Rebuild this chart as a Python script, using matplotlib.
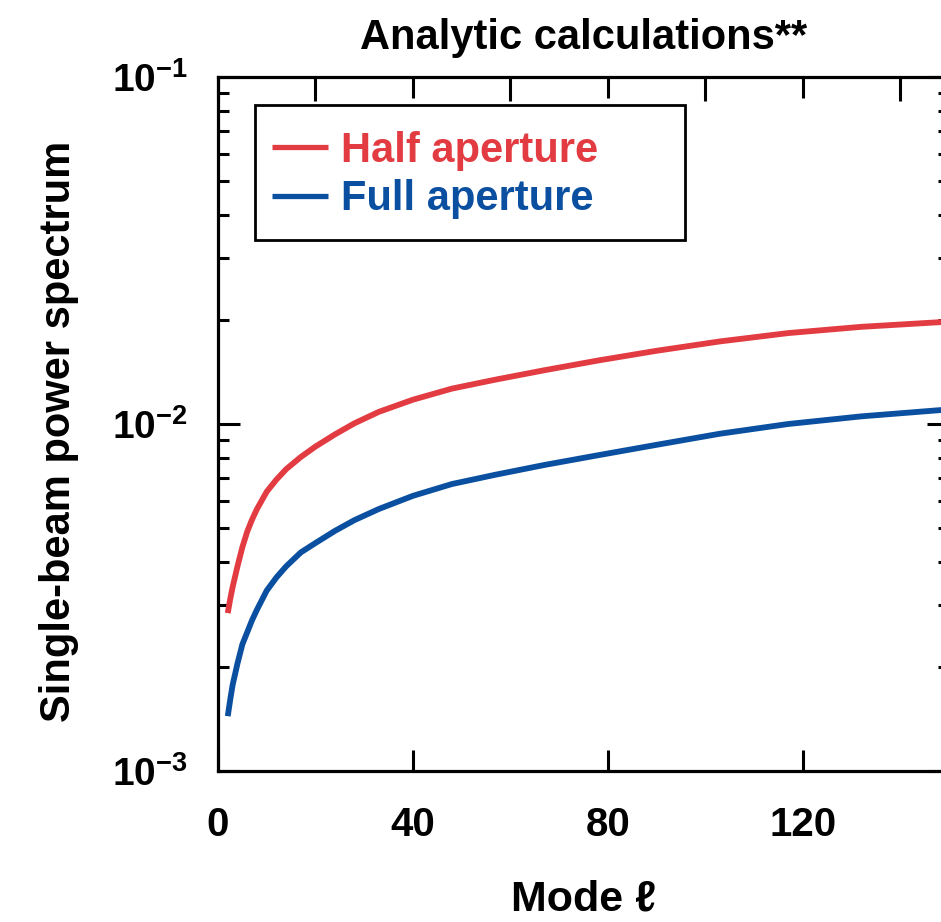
import matplotlib
matplotlib.use('Agg')
import matplotlib.pyplot as plt
from matplotlib.patches import Rectangle
from matplotlib.ticker import FixedLocator, FixedFormatter, NullFormatter

# values
ell = [2, 2.5, 3, 4, 5, 6, 7, 8, 10, 12, 14, 17, 20, 24, 28, 33, 40, 48, 57, 67,
       78, 90, 103, 117, 132, 150]
half_aperture = [2.851e-3, 3.126e-3, 3.388e-3, 3.890e-3, 4.416e-3, 4.898e-3, 5.309e-3,
                 5.689e-3, 6.383e-3, 6.918e-3, 7.413e-3, 8.035e-3, 8.610e-3, 9.333e-3,
                 1.0046e-2, 1.0839e-2, 1.1749e-2, 1.2647e-2, 1.3428e-2, 1.4289e-2,
                 1.5241e-2, 1.6255e-2, 1.7298e-2, 1.8281e-2, 1.9055e-2, 1.9724e-2]
full_aperture = [1.4388e-3, 1.6032e-3, 1.7701e-3, 2.0417e-3, 2.3174e-3, 2.5119e-3, 2.7227e-3,
                 2.9174e-3, 3.3113e-3, 3.6141e-3, 3.8905e-3, 4.2658e-3, 4.5394e-3, 4.9204e-3,
                 5.2845e-3, 5.6885e-3, 6.2087e-3, 6.7143e-3, 7.1450e-3, 7.6208e-3,
                 8.1283e-3, 8.7096e-3, 9.3756e-3, 1.0e-2, 1.0520e-2, 1.1016e-2]
series_labels = ['Half aperture', 'Full aperture']
xticks = [0, 40, 80, 120]
xticks_top = [20, 60, 100, 140]
yticks = [1e-3, 1e-2, 1e-1]
ytick_labels = [r'$\mathbf{10^{-3}}$', r'$\mathbf{10^{-2}}$', r'$\mathbf{10^{-1}}$']

RED = '#E23C42'
BLUE = '#0B50A0'
FONT = ['Liberation Sans', 'DejaVu Sans']

plt.rcParams['font.family'] = FONT
plt.rcParams['mathtext.fontset'] = 'custom'
plt.rcParams['mathtext.bf'] = 'Liberation Sans:bold'
plt.rcParams['mathtext.rm'] = 'Liberation Sans'

fig = plt.figure(figsize=(9.41, 9.22), dpi=100)
ax = fig.add_axes([218 / 941, 151 / 922, 731 / 941, 694 / 922])

ax.plot(ell, half_aperture, color=RED, lw=4.2, label=series_labels[0], solid_capstyle='butt')
ax.plot(ell, full_aperture, color=BLUE, lw=4.2, label=series_labels[1], solid_capstyle='butt')

ax.set_yscale('log')
ax.set_xlim(0, 150)
ax.set_ylim(1e-3, 1e-1)

for sp in ax.spines.values():
    sp.set_linewidth(2.3)

ax.xaxis.set_major_locator(FixedLocator(xticks))
ax.xaxis.set_minor_locator(FixedLocator(xticks_top))
ax.xaxis.set_minor_formatter(NullFormatter())
ax.tick_params(axis='x', which='major', direction='in', length=15, width=2.2,
               top=True, bottom=True, pad=25)
ax.tick_params(axis='x', which='minor', direction='in', length=17, width=2.2,
               top=True, bottom=False)
for lab in ax.get_xticklabels():
    lab.set_fontweight('bold')
    lab.set_fontsize(29)

ax.yaxis.set_major_locator(FixedLocator(yticks))
ax.yaxis.set_major_formatter(FixedFormatter(ytick_labels))
ax.yaxis.set_minor_formatter(NullFormatter())
ax.tick_params(axis='y', which='major', direction='in', length=16, width=2.2,
               left=True, right=True, labelsize=28, pad=22)
ax.tick_params(axis='y', which='minor', direction='in', length=8, width=2.2,
               left=True, right=True)

ax.set_title('Analytic calculations**', fontweight='bold', fontsize=30, pad=20)
ax.set_xlabel('Mode ℓ', fontweight='bold', fontsize=31, labelpad=26)
ax.set_ylabel('Single-beam power spectrum', fontweight='bold', fontsize=30)
ax.yaxis.set_label_coords(-0.19, 0.49)

# legend frame drawn by hand so its size matches the reference
ax.add_patch(Rectangle((37 / 731, (771 - 240) / 694), 430 / 731, 135 / 694,
                       transform=ax.transAxes, facecolor='white', edgecolor='black',
                       linewidth=2.0, zorder=4))
leg = ax.legend(loc='upper left', bbox_to_anchor=(54 / 731, 1 - 54 / 694), frameon=False,
                prop={'weight': 'bold', 'size': 30},
                handlelength=1.35, handletextpad=0.3, borderpad=0, labelspacing=0.2,
                borderaxespad=0)
leg.set_zorder(5)
for txt, col in zip(leg.get_texts(), [RED, BLUE]):
    txt.set_color(col)
for ln in leg.get_lines():
    ln.set_linewidth(3.8)

fig.savefig('out.png', dpi=100)
